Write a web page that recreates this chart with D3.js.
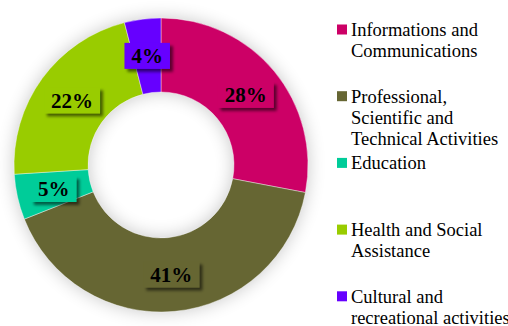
<!DOCTYPE html>
<style>
body { margin: 0; background: #fff; }
</style>
<svg width="508" height="326"></svg>
<script src="https://d3js.org/d3.v7.min.js"></script>
<script>
// data
var categories = ["Informations and Communications",
                  "Professional, Scientific and Technical Activities",
                  "Education",
                  "Health and Social Assistance",
                  "Cultural and recreational activities"];
var legendLines = [["Informations and", "Communications"],
                   ["Professional,", "Scientific and", "Technical Activities"],
                   ["Education"],
                   ["Health and Social", "Assistance"],
                   ["Cultural and", "recreational activities"]];
var values = [28, 41, 5, 22, 4];
var colors = ["#cc0066", "#666633", "#00cc99", "#99cc00", "#6600ff"];

var serif = "Liberation Serif";

var svg = d3.select("svg").style("display", "block"),
    cx = 161, cy = 165,
    outer = 147, inner = 73;

var defs = svg.append("defs");

// soft grey glow around the ring
var glow = defs.append("filter").attr("id", "glow")
    .attr("x", "-40%").attr("y", "-40%").attr("width", "180%").attr("height", "180%");
glow.append("feGaussianBlur").attr("stdDeviation", 9);

// drop shadow for label boxes
var drop = defs.append("filter").attr("id", "drop")
    .attr("x", "-30%").attr("y", "-30%").attr("width", "160%").attr("height", "180%");
drop.append("feDropShadow")
    .attr("dx", 3).attr("dy", 3).attr("stdDeviation", 1.5)
    .attr("flood-color", "#000").attr("flood-opacity", 0.55);

var z = d3.scaleOrdinal().domain(categories).range(colors);

var pie = d3.pie().sort(null).value(function(d, i) { return values[i]; });
var arcs = pie(categories);

var arc = d3.arc().innerRadius(inner).outerRadius(outer);

var g = svg.append("g").attr("transform", "translate(" + cx + "," + cy + ")");

g.append("path")
    .attr("d", d3.arc().innerRadius(inner).outerRadius(outer).startAngle(0).endAngle(2 * Math.PI)())
    .attr("fill", "#000")
    .attr("opacity", 0.22)
    .attr("filter", "url(#glow)");

g.selectAll("path.slice")
  .data(arcs)
  .enter().append("path")
    .attr("class", "slice")
    .attr("d", arc)
    .attr("fill", function(d) { return z(d.data); })
    .attr("stroke", "#fff")
    .attr("stroke-width", 0.4);

// labels
var label = g.selectAll("g.label")
  .data(arcs)
  .enter().append("g")
    .attr("class", "label")
    .attr("transform", function(d) { return "translate(" + arc.centroid(d) + ")"; });

label.append("text")
    .attr("text-anchor", "middle")
    .attr("dy", "0.35em")
    .style("font-family", serif)
    .style("font-size", "21px")
    .style("font-weight", "bold")
    .attr("fill", "#000")
    .text(function(d, i) { return values[i] + "%"; });

label.each(function(d) {
  var t = d3.select(this).select("text"),
      bb = t.node().getBBox();
  d3.select(this).insert("rect", "text")
      .attr("x", bb.x - 7)
      .attr("y", -13)
      .attr("width", bb.width + 14)
      .attr("height", 26)
      .attr("fill", z(d.data))
      .attr("filter", "url(#drop)");
});

// legend
var legend = svg.append("g")
  .selectAll("g")
  .data(categories)
  .enter().append("g")
    .attr("transform", function(d, i) { return "translate(337," + (29.5 + i * 66.7) + ")"; });

legend.append("rect")
    .attr("x", 0)
    .attr("y", -5)
    .attr("width", 10)
    .attr("height", 10)
    .attr("fill", z);

legend.append("text")
    .attr("x", 14)
    .style("font-family", serif)
    .style("font-size", "18.5px")
    .attr("fill", "#000")
  .selectAll("tspan")
  .data(function(d, i) { return legendLines[i]; })
  .enter().append("tspan")
    .attr("x", 14)
    .attr("y", function(d, j) { return j * 21; })
    .attr("dy", "0.35em")
    .text(function(d) { return d; });
</script>
